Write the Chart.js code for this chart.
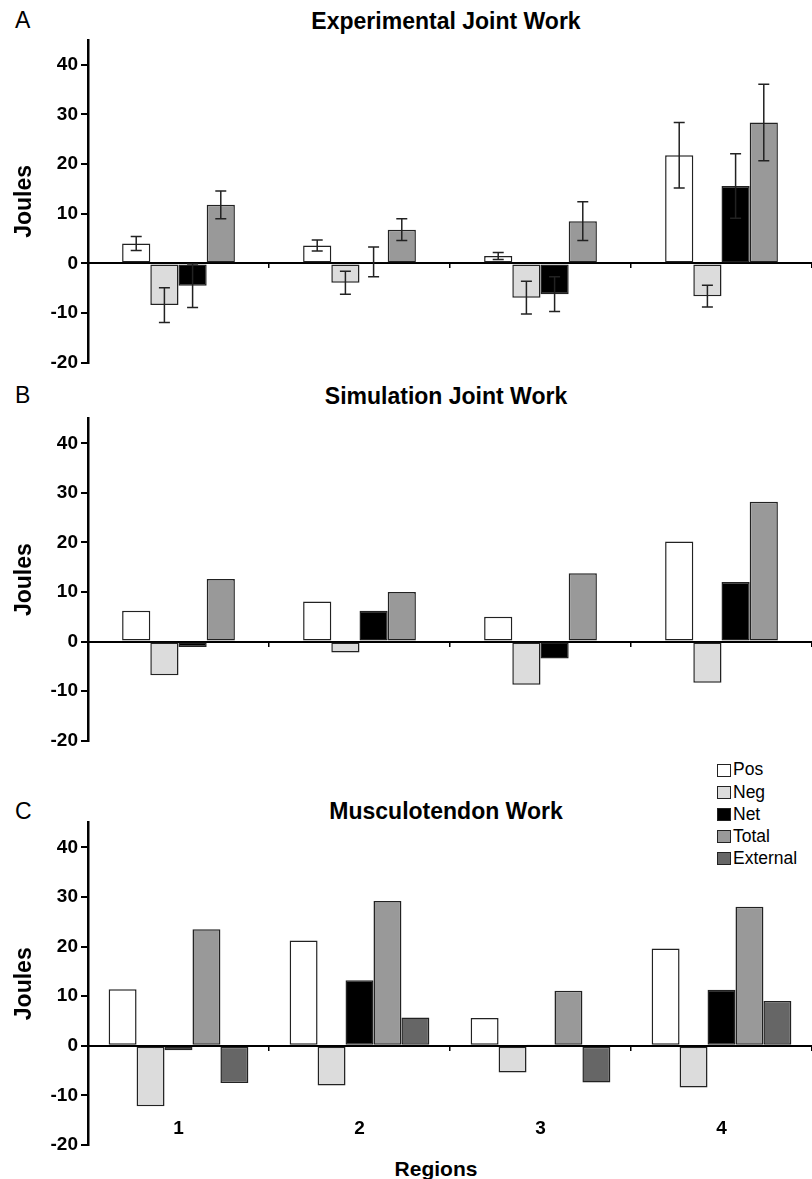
<!DOCTYPE html>
<html><head><meta charset="utf-8">
<script src="https://cdn.jsdelivr.net/npm/chart.js@4.4.1/dist/chart.umd.min.js"></script>
<style>
html,body{margin:0;padding:0;background:#fff;}
body{width:812px;height:1179px;position:relative;overflow:hidden;font-family:"Liberation Sans",Arial,sans-serif;}
canvas{position:absolute;left:0;}
.lbl{position:absolute;line-height:1;white-space:nowrap;color:#000;}
.letter{font-size:23px;left:15px;}
.ttl{font-size:23px;font-weight:bold;left:446px;transform:translateX(-50%);}
#legend{position:absolute;left:717px;top:759px;}
.li{display:flex;align-items:center;height:22.2px;font-size:17.5px;line-height:1;}
.sw{box-sizing:border-box;width:14px;height:13px;border:1.5px solid #222;margin-right:2px;}
</style></head>
<body>
<div class="lbl letter" style="top:8.8px">A</div>
<div class="lbl letter" style="top:383.8px">B</div>
<div class="lbl letter" style="top:799.8px">C</div>
<div class="lbl ttl" style="top:10.1px">Experimental Joint Work</div>
<div class="lbl ttl" style="top:384.8px">Simulation Joint Work</div>
<div class="lbl ttl" style="top:800.3px">Musculotendon Work</div>
<div class="lbl" style="top:1157.7px;left:436px;transform:translateX(-50%);font-size:21px;font-weight:bold;">Regions</div>
<div id="legend"></div>
<canvas id="cA" width="812" height="380" style="top:0px"></canvas>
<canvas id="cB" width="812" height="380" style="top:380px"></canvas>
<canvas id="cC" width="812" height="419" style="top:760px"></canvas>
<script>
// ---- data ----
const regions = ['1', '2', '3', '4'];
const seriesNames = ['Pos', 'Neg', 'Net', 'Total', 'External'];
const yTicks = [-20, -10, 0, 10, 20, 30, 40];

// A: Experimental Joint Work (mean, sd)
const expPos = [4.0, 3.6, 1.5, 21.8];
const expNeg = [-8.4, -3.9, -6.9, -6.6];
const expNet = [-4.5, 0.3, -6.2, 15.6];
const expTotal = [11.8, 6.8, 8.5, 28.4];
const expPosErr = [1.4, 1.1, 0.7, 6.6];
const expNegErr = [3.5, 2.3, 3.3, 2.2];
const expNetErr = [4.4, 3.0, 3.5, 6.5];
const expTotalErr = [2.8, 2.2, 3.9, 7.7];

// B: Simulation Joint Work
const simPos = [6.2, 8.1, 5.0, 20.2];
const simNeg = [-6.8, -2.2, -8.7, -8.3];
const simNet = [-1.1, 6.2, -3.4, 12.0];
const simTotal = [12.6, 10.0, 13.8, 28.2];

// C: Musculotendon Work
const mtPos = [11.4, 21.2, 5.6, 19.6];
const mtNeg = [-12.2, -8.0, -5.4, -8.4];
const mtNet = [-0.9, 13.2, 0.1, 11.3];
const mtTotal = [23.5, 29.2, 11.1, 28.0];
const mtExt = [-7.5, 5.7, -7.4, 9.0];

// ---- styles ----
const FAM = '"Liberation Sans", Arial, sans-serif';
const fills = ['#ffffff', '#dcdcdc', '#000000', '#999999', '#666666'];
const edge = '#222222';

// legend (HTML) from series names/colors
const lg = document.getElementById('legend');
seriesNames.forEach((n, i) => {
  const row = document.createElement('div'); row.className = 'li';
  const sw = document.createElement('span'); sw.className = 'sw'; sw.style.background = fills[i];
  const tx = document.createElement('span'); tx.textContent = n;
  row.appendChild(sw); row.appendChild(tx); lg.appendChild(row);
});

const errorBarPlugin = {
  id: 'errbars',
  afterDatasetsDraw(chart, args, opts) {
    const errs = opts.errors; if (!errs) return;
    const ctx = chart.ctx, ys = chart.scales.y;
    ctx.save(); ctx.strokeStyle = '#222'; ctx.lineWidth = 1.5;
    chart.data.datasets.forEach((ds, i) => {
      const e = errs[i]; if (!e) return;
      chart.getDatasetMeta(i).data.forEach((bar, j) => {
        const v = ds.data[j];
        const yt = ys.getPixelForValue(v + e[j]);
        const yb = ys.getPixelForValue(v - e[j]);
        const x = bar.x, w = 5.5;
        ctx.beginPath();
        ctx.moveTo(x, yt); ctx.lineTo(x, yb);
        ctx.moveTo(x - w, yt); ctx.lineTo(x + w, yt);
        ctx.moveTo(x - w, yb); ctx.lineTo(x + w, yb);
        ctx.stroke();
      });
    });
    ctx.restore();
  }
};

function makeChart(id, seriesList, errs, catPct, pad, showX) {
  const datasets = seriesList.map((d, i) => ({
    label: seriesNames[i], data: d,
    backgroundColor: fills[i], borderColor: edge, borderWidth: 1.5, borderSkipped: false,
    categoryPercentage: catPct, barPercentage: 1.0
  }));
  return new Chart(document.getElementById(id), {
    type: 'bar',
    data: { labels: regions, datasets },
    options: {
      responsive: false, animation: false, devicePixelRatio: 1,
      layout: { padding: pad },
      plugins: { legend: { display: false }, tooltip: { enabled: false }, errbars: { errors: errs } },
      scales: {
        x: {
          type: 'category', position: { y: 0 }, offset: true, z: 1,
          grid: { display: true, offset: true, drawOnChartArea: false, drawTicks: true, tickLength: 4, color: '#000', lineWidth: 1.5 },
          border: { display: true, color: '#000', width: 2 },
          ticks: { display: showX, font: { family: FAM, size: 19, weight: 'bold' }, color: '#000', padding: 68, maxRotation: 0, autoSkip: false },
          afterFit(s) { s.paddingLeft = 0; s.paddingRight = 0; }
        },
        y: {
          type: 'linear', min: -20, max: 45,
          afterBuildTicks(s) { s.ticks = yTicks.map(v => ({ value: v })); },
          grid: { display: true, drawOnChartArea: false, drawTicks: true, tickLength: 7, color: '#000', lineWidth: 2 },
          border: { display: true, color: '#000', width: 2.5 },
          ticks: { font: { family: FAM, size: 19, weight: 'bold' }, color: '#000', padding: 3 },
          title: { display: true, text: 'Joules', font: { family: FAM, size: 23, weight: 'bold' }, color: '#000', padding: { top: 11.2, bottom: 0 } },
          afterFit(s) { s.width = 88; s.paddingTop = 0; s.paddingBottom = 0; }
        }
      }
    },
    plugins: [errorBarPlugin]
  });
}

makeChart('cA', [expPos, expNeg, expNet, expTotal], [expPosErr, expNegErr, expNetErr, expTotalErr], 0.623,
  { top: 40, bottom: 17.3, left: 0, right: 0 }, false);
makeChart('cB', [simPos, simNeg, simNet, simTotal], null, 0.623,
  { top: 38.5, bottom: 19.3, left: 0, right: 0 }, false);
makeChart('cC', [mtPos, mtNeg, mtNet, mtTotal, mtExt], null, 0.772,
  { top: 62.5, bottom: 34, left: 0, right: 0 }, true);
</script>
</body></html>
